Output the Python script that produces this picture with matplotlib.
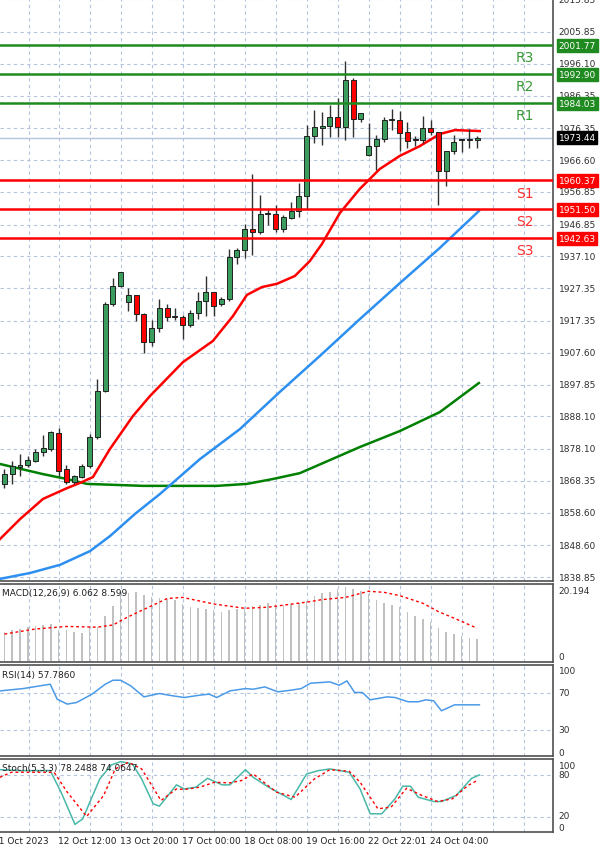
import matplotlib
matplotlib.use("Agg")
import matplotlib.pyplot as plt
import matplotlib.transforms as mtransforms
import numpy as np

# ---------------- data ----------------
opens = [1867.4,1870.4,1872.5,1873.2,1874.5,1877.1,1878.1,1883.0,1872.0,1867.9,
         1869.6,1872.8,1881.7,1896.0,1922.5,1927.9,1923.0,1925.3,1919.5,1911.0,
         1915.1,1921.2,1918.6,1918.6,1916.1,1919.7,1923.5,1926.1,1922.5,1924.0,
         1936.8,1939.1,1945.5,1944.5,1950.0,1950.1,1945.5,1948.8,1951.1,1955.7,
         1973.9,1976.4,1977.1,1979.7,1976.8,1991.1,1979.2,1968.2,1970.8,1973.1,
         1978.9,1978.9,1975.1,1972.9,1972.9,1976.3,1975.1,1963.4,1969.5,1972.7,
         1972.7,1972.8]
closes = [1870.4,1873.0,1873.2,1874.7,1877.1,1878.3,1883.2,1871.5,1867.9,1869.7,
          1873.0,1881.7,1896.0,1922.5,1927.9,1932.2,1925.3,1919.5,1911.0,1915.1,
          1921.2,1918.4,1918.7,1916.1,1919.7,1923.5,1926.3,1922.0,1924.0,1936.8,
          1939.1,1945.5,1944.7,1950.1,1950.2,1945.5,1949.1,1951.1,1955.7,1973.9,
          1976.6,1977.1,1979.7,1976.8,1991.1,1979.2,1980.9,1970.8,1973.1,1979.0,
          1978.9,1974.9,1972.5,1972.7,1976.3,1975.1,1963.4,1969.5,1972.3,1972.9,
          1972.9,1973.4]
highs = [1872.0,1874.5,1876.6,1876.1,1878.1,1882.4,1883.7,1884.5,1873.2,1870.1,
         1873.5,1882.7,1899.5,1923.2,1930.4,1932.4,1927.3,1925.3,1919.8,1917.7,
         1924.1,1922.5,1921.2,1919.2,1920.8,1926.3,1931.2,1926.3,1924.6,1939.4,
         1939.6,1947.0,1962.3,1956.0,1951.4,1952.8,1949.9,1953.9,1959.6,1977.4,
         1981.9,1981.4,1983.5,1985.5,1996.9,1991.8,1980.9,1978.0,1974.3,1979.7,
         1982.3,1981.7,1978.2,1973.9,1980.2,1978.9,1975.3,1969.5,1974.3,1973.0,
         1976.1,1973.9]
lows = [1866.0,1867.4,1869.9,1872.5,1874.0,1876.1,1877.6,1869.9,1867.4,1867.4,
        1869.1,1872.3,1881.2,1895.7,1922.0,1927.6,1920.5,1917.4,1907.5,1909.5,
        1913.8,1917.4,1917.7,1911.8,1915.6,1917.9,1918.9,1918.9,1922.0,1923.5,
        1934.8,1936.5,1937.5,1944.0,1946.8,1944.5,1944.7,1948.6,1949.1,1951.6,
        1971.8,1971.3,1973.6,1973.6,1972.9,1973.6,1978.2,1967.9,1963.7,1972.0,
        1975.9,1969.5,1970.2,1971.0,1971.8,1974.3,1952.8,1958.6,1968.5,1969.2,
        1970.2,1970.2]

ma_red_idx = [-0.58,2.0,4.97,8.06,9.74,11.42,13.61,16.58,18.77,23.03,26.9,29.48,31.29,
              33.23,35.16,37.48,39.42,40.97,43.29,45.87,48.45,51.03,53.61,56.19,58.13,61.35]
ma_red_val = [1850.5,1856.6,1862.8,1866.1,1867.7,1869.5,1878.1,1888.2,1894.3,1904.7,1911.2,
              1918.8,1925.3,1927.7,1928.7,1931.1,1935.7,1940.9,1950.4,1957.8,1963.9,1967.9,
              1970.9,1974.6,1975.8,1975.5]
ma_blue_idx = [-0.58,3.29,7.16,11.03,13.61,16.84,20.06,25.23,30.39,35.55,40.71,45.87,51.03,56.19,61.23]
ma_blue_val = [1838.3,1840.1,1842.6,1846.8,1851.4,1858.2,1864.3,1875.0,1884.2,1895.6,1906.6,
               1917.9,1928.9,1939.7,1951.0]
ma_green_idx = [-0.58,4.97,8.06,10.65,17.87,27.42,31.29,34.65,38.13,42.0,45.87,51.03,56.19,61.23]
ma_green_val = [1873.5,1870.4,1868.9,1867.4,1866.8,1866.8,1867.4,1868.9,1870.7,1874.7,1878.7,
                1883.6,1889.4,1898.3]

res_levels = [2001.77, 1992.90, 1984.03]
res_names = ["R3", "R2", "R1"]
sup_levels = [1960.37, 1951.50, 1942.63]
sup_names = ["S1", "S2", "S3"]
last_price = 1973.44

price_ticks = [2015.85,2005.85,1996.10,1986.35,1976.35,1966.60,1956.85,1946.85,1937.10,
               1927.35,1917.35,1907.60,1897.85,1888.10,1878.10,1868.35,1858.60,1848.60,1838.85]

macd_hist = [7.8,8.3,8.7,9.2,9.5,9.9,10.2,8.5,8.3,7.8,7.5,
             9.2,9.2,12.4,15.1,18.1,18.6,18.8,18.1,17.4,17.2,
             17.0,16.8,15.6,14.7,14.4,14.2,13.8,13.3,13.8,14.2,
             14.7,15.1,15.4,15.9,15.6,15.4,15.6,15.9,16.5,17.9,
             18.6,19.0,19.6,20.2,19.7,19.1,18.4,16.8,15.9,15.4,
             14.7,13.3,12.4,11.5,10.6,8.9,8.0,7.3,6.9,6.2,6.0]
macd_sig_idx = [0,4,8,12,14,16,19,21,23,27,31,34,39,41,44,47,49,51,54,56,59,61]
macd_sig_val = [7.3,8.7,9.4,9.2,9.8,12.1,15.1,17.1,17.4,15.6,14.4,14.7,16.1,16.8,17.4,19.1,
                18.8,17.9,15.8,13.5,10.8,8.9]

rsi_idx = [-0.6,2.4,5.9,6.8,8.1,9.3,11.3,13.0,14.0,15.0,16.3,18.0,20.0,21.2,23.2,25.2,26.4,
           27.4,29.1,31.1,32.1,33.6,35.3,37.0,38.3,39.5,42.0,43.2,44.2,45.2,46.2,47.2,49.4,
           50.4,52.1,53.4,54.4,55.4,56.4,58.1,61.3]
rsi_val = [72.1,74.6,79.3,63.2,57.9,59.6,68.6,79.3,83.6,83.6,77.5,65.7,69.3,67.5,65.0,67.5,
           68.6,65.0,72.1,74.6,73.9,76.4,71.1,72.9,74.6,80.4,81.8,78.2,82.9,70.4,70.4,62.5,
           65.7,65.0,60.4,60.4,62.5,61.4,50.7,57.1,57.1]

stk_idx = [-0.6,2.1,5.9,7.3,9.1,10.1,12.3,13.8,15.0,16.5,17.7,19.2,20.0,22.2,23.2,24.7,26.2,
           28.1,29.1,31.1,32.1,34.1,37.0,39.0,40.5,42.0,44.5,45.9,47.2,48.7,50.4,51.4,52.4,
           53.4,55.4,56.4,58.3,60.3,61.3]
stk_val = [87.0,85.6,85.6,55.2,9.7,17.6,73.9,93.6,98.3,95.0,73.9,38.7,35.5,65.5,59.8,62.2,
           74.8,65.5,65.5,87.0,76.2,62.2,44.8,80.9,85.6,88.0,83.3,59.8,24.7,24.7,45.8,63.6,
           63.6,48.1,42.0,42.0,50.5,74.8,79.5]
std_idx = [-0.6,0.9,6.4,8.1,10.6,12.8,14.3,16.0,17.7,20.2,22.2,23.2,25.2,27.1,29.1,30.6,32.1,
           35.1,37.5,40.0,42.0,44.5,45.9,48.2,49.9,51.9,53.9,55.9,57.8,59.8,61.0]
std_val = [76.2,83.3,83.3,55.2,20.9,50.5,88.0,97.3,88.0,43.4,59.8,58.9,62.2,69.2,68.3,71.6,
           80.9,55.2,48.1,73.9,87.0,84.7,69.2,31.7,34.1,60.8,50.5,42.0,45.8,64.5,71.6]

date_labels = ["11 Oct 2023","12 Oct 12:00","13 Oct 20:00","17 Oct 00:00","18 Oct 08:00",
               "19 Oct 16:00","22 Oct 22:01","24 Oct 04:00"]

# ---------------- figure ----------------
W, H = 600, 854
fig = plt.figure(figsize=(W/100, H/100), dpi=100)
fig.patch.set_facecolor("white")
AXW = 553/W
XL = (-0.58, 70.8)
GRID = dict(color="#b4c4dc", linestyle=(0, (3, 3)), linewidth=0.8)
FS = 6.5
grid_x = [3.1 + 4*k for k in range(-1, 18)]

def pan(top, bot):
    ax = fig.add_axes([0, 1-bot/H, AXW, (bot-top)/H])
    ax.set_xlim(*XL)
    ax.set_xticks([]); ax.set_yticks([])
    ax.spines["left"].set_visible(False)
    for s in ["top", "right", "bottom"]:
        ax.spines[s].set_color("#505050"); ax.spines[s].set_linewidth(1.2)
    for gx in grid_x:
        ax.axvline(gx, zorder=0, **GRID)
    return ax

def rlabel(ax, y, s, **kw):
    tr = mtransforms.blended_transform_factory(ax.transAxes, ax.transData)
    ax.text(1.01, y, s, transform=tr, fontsize=FS, va="center", ha="left",
            clip_on=False, **kw)

# main
ax = pan(0, 582)
ax.set_ylim(2015.96 - 582*0.30637, 2015.96)
for p in price_ticks:
    ax.axhline(p, zorder=0, **GRID)
    rlabel(ax, p, f"{p:.2f}", color="#303030")
ax.axhline(last_price, color="#b0c4de", linewidth=1, zorder=1)

n = len(opens)
xs = np.arange(n)
for i in range(n):
    o, c, h, l = opens[i], closes[i], highs[i], lows[i]
    ax.vlines(xs[i], l, h, color="#303030", linewidth=1, zorder=3)
    col = "#3a9d5d" if c >= o else "#ff0000"
    bot, ht = min(o, c), max(abs(c-o), 0.25)
    ax.add_patch(plt.Rectangle((xs[i]-0.32, bot), 0.64, ht, facecolor=col,
                               edgecolor="#202020", linewidth=0.7, zorder=4))

ax.plot(ma_green_idx, ma_green_val, color="#008000", linewidth=1.8, zorder=2)
ax.plot(ma_blue_idx, ma_blue_val, color="#2d8ff0", linewidth=1.8, zorder=2)
ax.plot(ma_red_idx, ma_red_val, color="#ff0000", linewidth=1.8, zorder=2)

bbox_kw = lambda fc: dict(boxstyle="square,pad=0.2", facecolor=fc, edgecolor=fc)
for lv, nm in zip(res_levels, res_names):
    ax.axhline(lv, color="#1f8a1f", linewidth=1.8, zorder=5)
    ax.text(67.2, lv - 3.7, nm, color="#3a9a3a", fontsize=10, ha="center", va="center", zorder=6)
    rlabel(ax, lv, f"{lv:.2f}", color="white", bbox=bbox_kw("#1f8a1f"), zorder=7)
for lv, nm in zip(sup_levels, sup_names):
    ax.axhline(lv, color="#ff0000", linewidth=1.8, zorder=5)
    ax.text(67.2, lv - 3.7, nm, color="#ff3030", fontsize=10, ha="center", va="center", zorder=6)
    rlabel(ax, lv, f"{lv:.2f}", color="white", bbox=bbox_kw("#ff0000"), zorder=7)
rlabel(ax, last_price, f"{last_price:.2f}", color="white", bbox=bbox_kw("#000000"), zorder=7)

# MACD
am = pan(585, 663)
am.set_ylim(-0.4, 21.1)
am.bar(xs, macd_hist, width=0.2, color="#c0c0c0", zorder=2)
am.plot(macd_sig_idx, macd_sig_val, color="#ff0000", linestyle=(0, (2, 2)), linewidth=1, zorder=3)
am.text(0.003, 0.95, "MACD(12,26,9) 6.062 8.599", transform=am.transAxes, fontsize=FS,
        va="top", ha="left", color="#202020")
rlabel(am, 19.4, "20.194", color="#303030")
rlabel(am, 1.2, "0", color="#303030")

# RSI
ar = pan(666, 757)
ar.set_ylim(2, 100)
for v in (70, 30):
    ar.axhline(v, zorder=0, **GRID)
    rlabel(ar, v, str(v), color="#303030")
rlabel(ar, 94, "100", color="#303030")
rlabel(ar, 6, "0", color="#303030")
ar.plot(rsi_idx, rsi_val, color="#4a9ae8", linewidth=1.1)
ar.text(0.003, 0.95, "RSI(14) 57.7860", transform=ar.transAxes, fontsize=FS,
        va="top", ha="left", color="#202020")

# Stochastic
ast = pan(760, 833)
ast.set_ylim(-1, 102)
for v in (80, 20):
    ast.axhline(v, zorder=0, **GRID)
rlabel(ast, 80, "80", color="#303030")
rlabel(ast, 22, "20", color="#303030")
rlabel(ast, 93, "100", color="#303030")
rlabel(ast, 5, "0", color="#303030")
ast.plot(stk_idx, stk_val, color="#48b8a8", linewidth=1.1, zorder=3)
ast.plot(std_idx, std_val, color="#ff0000", linestyle=(0, (2, 2)), linewidth=1, zorder=3)
ast.text(0.003, 0.95, "Stoch(5,3,3) 78.2488 74.0647", transform=ast.transAxes, fontsize=FS,
         va="top", ha="left", color="#202020")

# date labels
for k, lab in enumerate(date_labels):
    gx = -0.9 + 8*k
    xpix = 4.5 + 7.75*gx - 2
    if k == 0:
        xpix = -7
    fig.text(xpix/W, 1-842/H, lab, fontsize=FS, ha="left", va="center", color="#202020")

fig.savefig("out.png", dpi=100)
